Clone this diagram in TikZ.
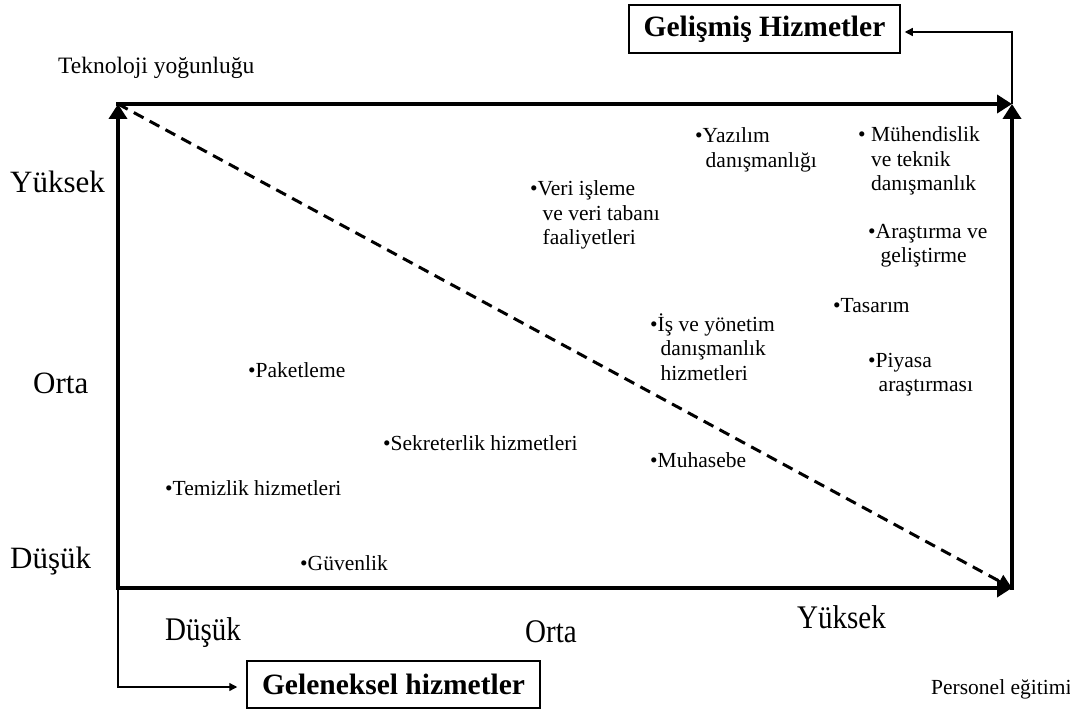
\documentclass[tikz,border=0pt]{standalone}
\usepackage{fontspec}
\setmainfont{Liberation Serif}
\usetikzlibrary{arrows.meta}
\begin{document}
\begin{tikzpicture}[x=1pt,y=-1pt,
  axis/.style={line width=4pt, line cap=rect, -{Triangle[length=15pt,width=18pt]}},
  diag/.style={line width=3pt, dash pattern=on 11pt off 7pt, -{Triangle[length=14pt,width=14pt]}},
  link/.style={line width=1.3pt, -{Triangle[length=8pt,width=8pt]}},
  groupbox/.style={draw, line width=1.5pt, inner sep=0pt, font=\fontsize{29.5}{32}\selectfont\bfseries},
  level/.style={anchor=base west, inner sep=0pt, font=\fontsize{31}{34}\selectfont},
  xlevel/.style={anchor=base west, inner sep=0pt, xscale=0.88, font=\fontsize{33}{36}\selectfont},
  axtitle/.style={anchor=base west, inner sep=0pt, font=\fontsize{23.5}{26}\selectfont},
  item/.style={anchor=base west, inner sep=0pt, font=\fontsize{21.5}{24.5}\selectfont}]
\useasboundingbox (0,0) rectangle (1070,714);

% corners of the frame
\coordinate (tl) at (118,104);
\coordinate (tr) at (1012,104);
\coordinate (bl) at (118,588);
\coordinate (br) at (1012,588);

% frame with arrows
\draw[axis] (bl) -- (tl);
\draw[axis] (tl) -- (tr);
\draw[axis] (br) -- (tr);
\draw[axis] (bl) -- (br);
\draw[diag] (tl) -- (br);

% group boxes
\node[groupbox, minimum width=271pt, minimum height=48pt] (adv) at (764.5,29) {Gelişmiş Hizmetler};
\node[groupbox, minimum width=293pt, minimum height=47pt] (trad) at (393.5,684.5) {Geleneksel hizmetler};

\draw[link, shorten >=4pt] (tr) |- ([yshift=-3pt]adv.east);
\draw[link, shorten >=9pt] (bl) |- ([yshift=-2.5pt]trad.west);

% axis titles
\node[axtitle] (ytitle) at (58,74) {Teknoloji yoğunluğu};
\node[item] (xtitle) at (931,694) {Personel eğitimi};

% vertical levels
\node[level] (yhigh) at (10,193) {Yüksek};
\node[level] (ymid) at (33,393) {Orta};
\node[level] (ylow) at (10,568) {Düşük};

% horizontal levels
\node[xlevel] (xlow) at (165,640) {Düşük};
\node[xlevel] (xmid) at (525,642) {Orta};
\node[xlevel] (xhigh) at (797,628) {Yüksek};

% services
\node[item] (yaz) at (695,143) {•\begin{tabular}[t]{@{}l@{}}Yazılım\\\hspace*{3pt}danışmanlığı\end{tabular}};
\node[item] (muh) at (858,142) {•\begin{tabular}[t]{@{}l@{}}\ Mühendislik\\\ ve teknik\\\ danışmanlık\end{tabular}};
\node[item] (veri) at (530,196) {•\begin{tabular}[t]{@{}l@{}}Veri işleme\\\hspace*{5pt}ve veri tabanı\\\hspace*{5pt}faaliyetleri\end{tabular}};
\node[item] (arge) at (868,238) {•\begin{tabular}[t]{@{}l@{}}Araştırma ve\\\hspace*{5pt}geliştirme\end{tabular}};
\node[item] (tas) at (833,312) {•Tasarım};
\node[item] (yon) at (650,331) {•\begin{tabular}[t]{@{}l@{}}İş ve yönetim\\\hspace*{3pt}danışmanlık\\\hspace*{3pt}hizmetleri\end{tabular}};
\node[item] (piy) at (868,367) {•\begin{tabular}[t]{@{}l@{}}Piyasa\\\hspace*{3pt}araştırması\end{tabular}};
\node[item] (pak) at (248,377) {•Paketleme};
\node[item] (sek) at (383,450) {•Sekreterlik hizmetleri};
\node[item] (muhs) at (650,467) {•Muhasebe};
\node[item] (tem) at (165,495) {•Temizlik hizmetleri};
\node[item] (guv) at (300,570) {•Güvenlik};
\end{tikzpicture}
\end{document}
